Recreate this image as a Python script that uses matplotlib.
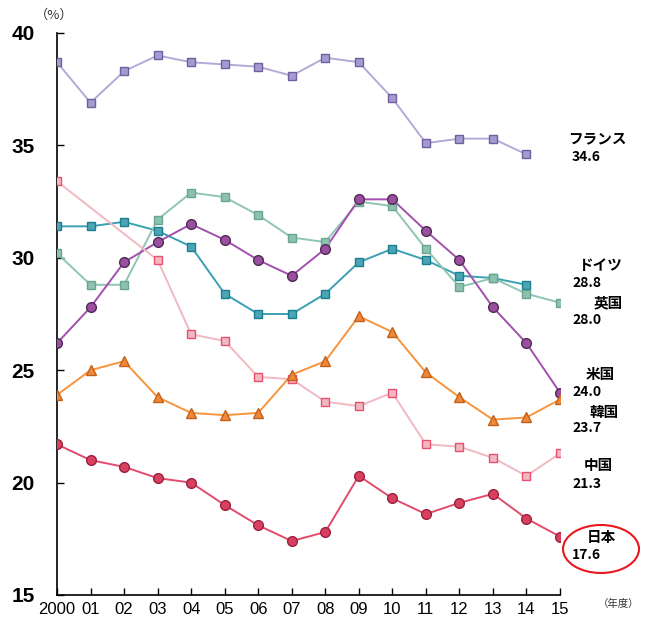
import numpy as np
import matplotlib.pyplot as plt
from matplotlib import font_manager
from matplotlib.patches import Ellipse

# Pick a narrow sans for the numerals when available
names = {f.name for f in font_manager.fontManager.ttflist}
num_font = 'Liberation Sans Narrow' if 'Liberation Sans Narrow' in names else 'Liberation Sans'
jp_font = ['Noto Sans CJK JP', 'DejaVu Sans']

years = list(range(2000, 2016))
year_labels = ['2000', '01', '02', '03', '04', '05', '06', '07', '08', '09',
               '10', '11', '12', '13', '14', '15']

nan = np.nan
france = [38.7, 36.9, 38.3, 39.0, 38.7, 38.6, 38.5, 38.1, 38.9, 38.7,
          37.1, 35.1, 35.3, 35.3, 34.6, nan]
germany = [31.4, 31.4, 31.6, 31.2, 30.5, 28.4, 27.5, 27.5, 28.4, 29.8,
           30.4, 29.9, 29.2, 29.1, 28.8, nan]
uk = [30.2, 28.8, 28.8, 31.7, 32.9, 32.7, 31.9, 30.9, 30.7, 32.5,
      32.3, 30.4, 28.7, 29.1, 28.4, 28.0]
usa = [26.2, 27.8, 29.8, 30.7, 31.5, 30.8, 29.9, 29.2, 30.4, 32.6,
       32.6, 31.2, 29.9, 27.8, 26.2, 24.0]
china = [33.4, nan, nan, 29.9, 26.6, 26.3, 24.7, 24.6, 23.6, 23.4,
         24.0, 21.7, 21.6, 21.1, 20.3, 21.3]
korea = [23.9, 25.0, 25.4, 23.8, 23.1, 23.0, 23.1, 24.8, 25.4, 27.4,
         26.7, 24.9, 23.8, 22.8, 22.9, 23.7]
japan = [21.7, 21.0, 20.7, 20.2, 20.0, 19.0, 18.1, 17.4, 17.8, 20.3,
         19.3, 18.6, 19.1, 19.5, 18.4, 17.6]

countries = ['フランス', 'ドイツ', '英国', '米国', '韓国', '中国', '日本']
latest = [34.6, 28.8, 28.0, 24.0, 23.7, 21.3, 17.6]

# (values, marker, line colour, face colour, edge colour)
series = [
    (france, 's', '#b4a9d8', '#a59bd1', '#6f5fa0'),
    (germany, 's', '#3aa0b3', '#4ba5b5', '#1b7f8f'),
    (uk, 's', '#8fc5b3', '#8ec2ae', '#68a68e'),
    (usa, 'o', '#a34fae', '#9b4fa0', '#4f2a55'),
    (china, 's', '#f1b9c1', '#f0b8c2', '#e8506e'),
    (korea, '^', '#f7943c', '#f0883a', '#c3601b'),
    (japan, 'o', '#e24c6c', '#d8405e', '#9a2140'),
]

fig = plt.figure(figsize=(6.5, 6.21), dpi=100)
ax = fig.add_axes([57 / 650, 1 - 595 / 621, (560 - 57) / 650, (595 - 33) / 621])

x = np.arange(len(years))
for vals, mk, lc, fc, ec in series:
    v = np.array(vals, dtype=float)
    ok = ~np.isnan(v)
    ax.plot(x[ok], v[ok], color=lc, lw=1.4, zorder=2)
    ax.plot(x[ok], v[ok], ls='none', marker=mk, ms=6.3 if mk == 's' else 7,
            mfc=fc, mec=ec, mew=1.0, zorder=3)

ax.set_xlim(0, 15)
ax.set_ylim(15, 40)
ax.set_yticks([15, 20, 25, 30, 35, 40])
ax.set_xticks(x)
ax.set_xticklabels(year_labels)
for s in ['top', 'right']:
    ax.spines[s].set_visible(False)
for s in ['left', 'bottom']:
    ax.spines[s].set_linewidth(1.2)
ax.tick_params(axis='y', direction='in', length=5, width=1, pad=16)
ax.tick_params(axis='x', direction='in', length=5, width=1, pad=5)
for lb in ax.get_yticklabels():
    lb.set_fontfamily(num_font)
    lb.set_fontweight('bold')
    lb.set_fontsize(15)
for lb in ax.get_xticklabels():
    lb.set_fontfamily(num_font)
    lb.set_fontsize(12)

fig.text(54 / 650, 1 - 15 / 621, '（%）', ha='center', va='center',
         fontsize=9.5, family=jp_font, color='#333333')
fig.text(619 / 650, 1 - 604 / 621, '（年度）', ha='center', va='center',
         fontsize=7.5, family=jp_font, color='#333333')

# Country names and latest values to the right of the plot
name_xy = [(597, 138), (600, 265), (608, 302), (600, 374),
           (604, 412), (598, 465), (601, 537)]
value_y = [157, 283, 320, 392, 428, 484, 555]
for name, val, (nx, ny), vy in zip(countries, latest, name_xy, value_y):
    fig.text(nx / 650, 1 - ny / 621, name, ha='center', va='center',
             fontsize=10.5, fontweight='bold', family=jp_font)
    fig.text(572 / 650, 1 - vy / 621, f'{val:.1f}', ha='left', va='center',
             fontsize=10, fontweight='bold', family=jp_font)

fig.patches.append(Ellipse((601 / 650, 1 - 549 / 621), 76 / 650, 48 / 621,
                           transform=fig.transFigure, fill=False,
                           edgecolor='#e8191e', lw=1.5))

fig.savefig('out.png', dpi=100)
